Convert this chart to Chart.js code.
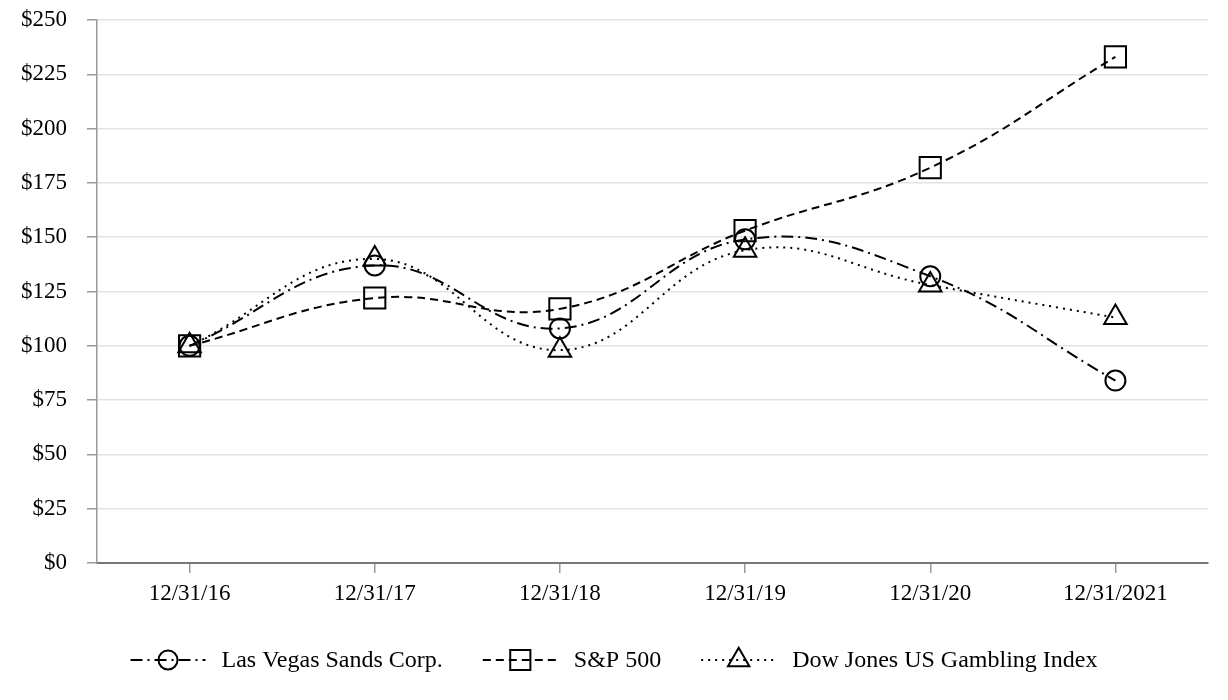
<!DOCTYPE html>
<html>
<head>
<meta charset="utf-8">
<script src="https://cdn.jsdelivr.net/npm/chart.js@4.4.1/dist/chart.umd.min.js"></script>
<style>
  html, body { margin: 0; padding: 0; background: #fff; }
  #wrap { width: 1228px; height: 700px; position: relative; }
</style>
</head>
<body>
<div id="wrap"><canvas id="grafico"></canvas></div>
<script>
// Dados
const categorias = ['12/31/16', '12/31/17', '12/31/18', '12/31/19', '12/31/20', '12/31/2021'];
const lasVegasSands = [100, 137, 108, 149, 132, 84];
const sp500 = [100, 122, 117, 153, 182, 233];
const dowJonesGambling = [100, 140, 98, 144, 128, 113];
const ticksY = [0, 25, 50, 75, 100, 125, 150, 175, 200, 225, 250];

const FONTE = '"Liberation Serif", "Times New Roman", serif';

// Legenda desenhada à mão (linha + marcador + texto)
const legendaPlugin = {
  id: 'legendaLinhas',
  afterDraw(chart) {
    const ctx = chart.ctx;
    const sampleLen = 75, gapTexto = 16, gapItem = 40, yLeg = 660;
    ctx.save();
    ctx.font = '24px ' + FONTE;
    const itens = chart.data.datasets.map(ds => ({ ds, w: sampleLen + gapTexto + ctx.measureText(ds.label).width }));
    const total = itens.reduce((s, i) => s + i.w, 0) + gapItem * (itens.length - 1);
    let x = (chart.width - total) / 2;
    itens.forEach(({ ds, w }) => {
      ctx.strokeStyle = '#000';
      ctx.lineWidth = 2;
      ctx.setLineDash(ds.borderDash);
      ctx.beginPath();
      ctx.moveTo(x, yLeg);
      ctx.lineTo(x + sampleLen, yLeg);
      ctx.stroke();
      ctx.setLineDash([]);
      ctx.fillStyle = 'rgba(0,0,0,0)';
      Chart.helpers.drawPoint(ctx, {
        pointStyle: ds.pointStyle,
        radius: ds.pointRadius * 0.95,
        borderWidth: 2
      }, x + sampleLen / 2, yLeg);
      ctx.fillStyle = '#000';
      ctx.textBaseline = 'middle';
      ctx.textAlign = 'left';
      ctx.fillText(ds.label, x + sampleLen + gapTexto, yLeg + 1);
      x += w + gapItem;
    });
    ctx.restore();
  }
};

const ctx = document.getElementById('grafico').getContext('2d');

new Chart(ctx, {
  type: 'line',
  data: {
    labels: categorias,
    datasets: [
      {
        label: 'Las Vegas Sands Corp.',
        data: lasVegasSands,
        borderColor: '#000',
        borderWidth: 2,
        borderDash: [12, 5, 2, 5],
        pointStyle: 'circle',
        pointRadius: 10,
        pointBorderWidth: 2,
        pointBorderColor: '#000',
        pointBackgroundColor: 'rgba(0,0,0,0)',
        tension: 0.42
      },
      {
        label: 'S&P 500',
        data: sp500,
        borderColor: '#000',
        borderWidth: 2,
        borderDash: [8, 5],
        pointStyle: 'rect',
        pointRadius: 15,
        pointBorderWidth: 2,
        pointBorderColor: '#000',
        pointBackgroundColor: 'rgba(0,0,0,0)',
        tension: 0.42
      },
      {
        label: 'Dow Jones US Gambling Index',
        data: dowJonesGambling,
        borderColor: '#000',
        borderWidth: 2,
        borderDash: [2, 5],
        pointStyle: 'triangle',
        pointRadius: 13,
        pointBorderWidth: 2,
        pointBorderColor: '#000',
        pointBackgroundColor: 'rgba(0,0,0,0)',
        tension: 0.42
      }
    ]
  },
  options: {
    responsive: true,
    maintainAspectRatio: false,
    animation: false,
    layout: { padding: { left: 0, right: 20, top: 20, bottom: 92 } },
    plugins: {
      legend: { display: false },
      tooltip: { enabled: false }
    },
    scales: {
      x: {
        offset: true,
        afterFit(scale) {
          scale.height = 45;
          scale.paddingLeft = 0;
          scale.paddingRight = 0;
        },
        border: { color: '#777', width: 2 },
        grid: { drawOnChartArea: false, offset: false, tickLength: 10, tickColor: '#999', lineWidth: 1.5 },
        ticks: { color: '#000', font: { family: FONTE, size: 23 }, padding: 7, maxRotation: 0 }
      },
      y: {
        min: 0,
        max: 250,
        afterFit(scale) {
          scale.width = 97;
          scale.paddingTop = 0;
          scale.paddingBottom = 0;
        },
        afterBuildTicks(scale) { scale.ticks = ticksY.map(v => ({ value: v })); },
        border: { color: '#999', width: 1.5 },
        grid: { color: '#e3e3e3', lineWidth: 1.5, tickLength: 10, tickColor: '#999' },
        ticks: {
          color: '#000',
          font: { family: FONTE, size: 23 },
          padding: 20,
          callback: v => '$' + v
        }
      }
    }
  },
  plugins: [legendaPlugin]
});
</script>
</body>
</html>
